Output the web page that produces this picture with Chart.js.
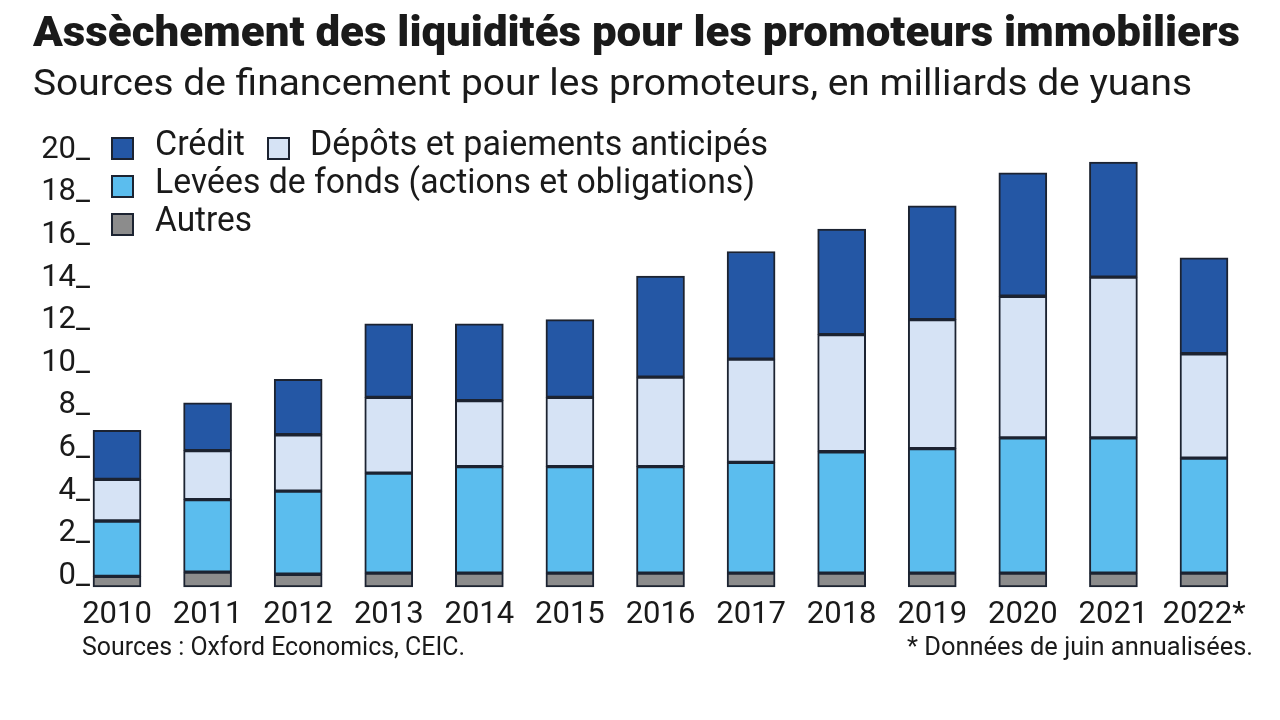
<!DOCTYPE html>
<html lang="fr">
<head>
<meta charset="utf-8">
<title>Assèchement des liquidités pour les promoteurs immobiliers</title>
<script src="https://cdn.jsdelivr.net/npm/chart.js@4.4.1/dist/chart.umd.min.js"></script>
<style>
  html, body { margin: 0; padding: 0; background: #fff; }
  #wrap { width: 1280px; height: 720px; }
</style>
</head>
<body>
<div id="wrap"><canvas id="chart" width="1280" height="720"></canvas></div>
<script>
// years on the x axis
var years = ['2010', '2011', '2012', '2013', '2014', '2015', '2016', '2017', '2018', '2019', '2020', '2021', '2022*'];
// series, bottom of the stack first (milliards de yuans)
var autres = [0.5, 0.7, 0.6, 0.65, 0.65, 0.65, 0.65, 0.65, 0.65, 0.65, 0.65, 0.65, 0.65];
var levees = [2.6, 3.4, 3.9, 4.7, 5.0, 5.0, 5.0, 5.2, 5.7, 5.85, 6.35, 6.35, 5.4];
var depots = [1.95, 2.3, 2.65, 3.55, 3.1, 3.25, 4.2, 4.85, 5.5, 6.05, 6.65, 7.55, 4.9];
var credit = [2.3, 2.25, 2.6, 3.45, 3.6, 3.65, 4.75, 5.05, 4.95, 5.35, 5.8, 5.4, 4.5];
var yTickLabels = ['0_', '2_', '4_', '6_', '8_', '10_', '12_', '14_', '16_', '18_', '20_'];

var FONT = "Roboto, 'Noto Sans', 'DejaVu Sans', sans-serif";
var INK = '#1a1a1a';
var EDGE = '#1c2331';

// draw a text squeezed to a given width (the original uses a condensed face)
function fitText(ctx, text, x, y, size, weight, width, align) {
  ctx.save();
  ctx.font = weight + ' ' + size + 'px ' + FONT;
  ctx.textBaseline = 'middle';
  ctx.textAlign = 'left';
  var w = ctx.measureText(text).width;
  var left = align === 'right' ? x - width : x;
  ctx.translate(left, y);
  ctx.scale(width / w, 1);
  ctx.fillStyle = INK;
  ctx.fillText(text, 0, 0);
  ctx.restore();
}

// where each legend entry goes, by dataset index
var legendSlots = [
  { box: 112, text: 155, y: 224, w: 97 },   // Autres
  { box: 112, text: 155, y: 186, w: 600 },  // Levées
  { box: 268, text: 310, y: 148, w: 458 },  // Dépôts
  { box: 112, text: 155, y: 148, w: 90 }    // Crédit
];

var annotations = {
  id: 'annotations',
  afterDraw: function (chart) {
    var ctx = chart.ctx;
    fitText(ctx, 'Assèchement des liquidités pour les promoteurs immobiliers', 33, 35, 42, '900', 1207);
    fitText(ctx, 'Sources de financement pour les promoteurs, en milliards de yuans', 33, 86, 37, '400', 1159);

    chart.data.datasets.forEach(function (ds, i) {
      var s = legendSlots[i];
      ctx.save();
      ctx.fillStyle = ds.backgroundColor;
      ctx.strokeStyle = EDGE;
      ctx.lineWidth = 2;
      ctx.fillRect(s.box, s.y - 10, 21, 21);
      ctx.strokeRect(s.box, s.y - 10, 21, 21);
      ctx.restore();
      fitText(ctx, ds.label, s.text, s.y - 2, 35, '400', s.w);
    });

    fitText(ctx, 'Sources : Oxford Economics, CEIC.', 82, 648, 26, '400', 383);
    fitText(ctx, '* Données de juin annualisées.', 1253, 648, 26, '400', 346, 'right');
  }
};

function makeSet(label, values, color) {
  return {
    label: label,
    data: values,
    backgroundColor: color,
    borderColor: EDGE,
    borderWidth: 2,
    borderSkipped: false,
    barThickness: 48,
    clip: false
  };
}

new Chart(document.getElementById('chart'), {
  type: 'bar',
  data: {
    labels: years,
    datasets: [
      makeSet('Autres', autres, '#8c8c8c'),
      makeSet('Levées de fonds (actions et obligations)', levees, '#5bbdee'),
      makeSet('Dépôts et paiements anticipés', depots, '#d6e3f5'),
      makeSet('Crédit', credit, '#2457a5')
    ]
  },
  options: {
    responsive: false,
    animation: false,
    devicePixelRatio: 1,
    layout: { padding: { top: 161, right: 76, bottom: 0, left: 0 } },
    plugins: {
      legend: { display: false },
      tooltip: { enabled: false }
    },
    scales: {
      x: {
        stacked: true,
        offset: false,
        grid: { display: false, drawTicks: false },
        border: { display: false },
        ticks: {
          color: INK,
          font: { family: FONT, size: 31 },
          padding: 10,
          maxRotation: 0,
          autoSkip: false
        },
        afterFit: function (scale) { scale.height = 133; }
      },
      y: {
        stacked: true,
        min: 0,
        max: 20,
        grid: { display: false, drawTicks: false },
        border: { display: false },
        ticks: {
          stepSize: 2,
          color: INK,
          font: { family: FONT, size: 31 },
          padding: 27,
          labelOffset: -11,
          callback: function (v, i) { return yTickLabels[i]; }
        },
        afterFit: function (scale) { scale.width = 117; }
      }
    }
  },
  plugins: [annotations]
});
</script>
</body>
</html>
